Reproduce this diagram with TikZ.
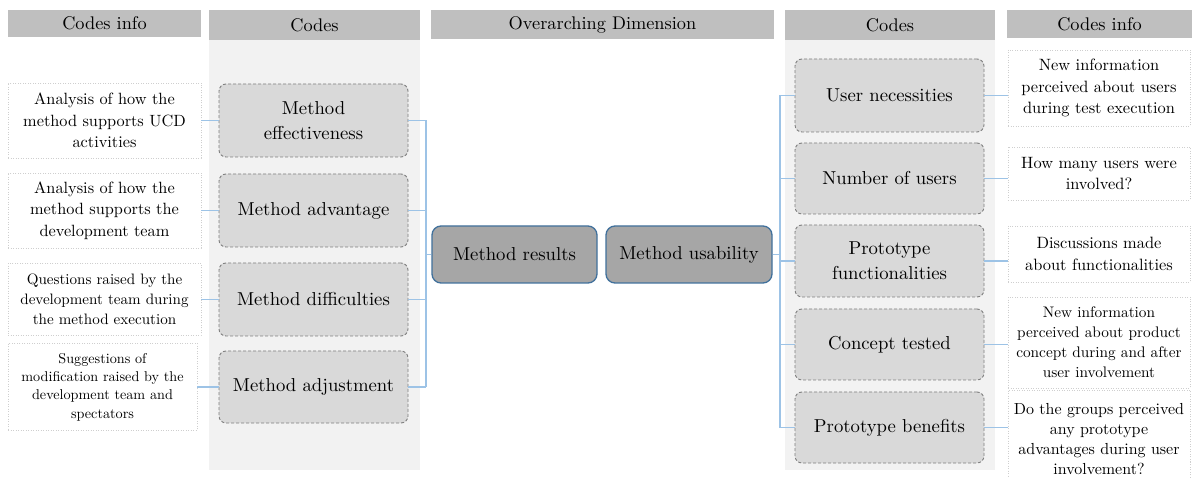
\documentclass[tikz,border=0pt]{standalone}
\usepackage{fontspec}
\newfontfamily\lmser{lmroman10-regular.otf}
\definecolor{hdrgray}{HTML}{BFBFBF}
\definecolor{panelgray}{HTML}{F2F2F2}
\definecolor{codegray}{HTML}{D9D9D9}
\definecolor{dashgray}{HTML}{7F7F7F}
\definecolor{dotgray}{HTML}{CFCFCF}
\definecolor{dimgray}{HTML}{A6A6A6}
\definecolor{dimblue}{HTML}{41719C}
\definecolor{connblue}{HTML}{9DC3E6}
\tikzset{
 hdr/.style={fill=hdrgray, inner sep=0pt, font=\lmser\fontsize{18.3}{22}\selectfont},
 codebox/.style={draw=dashgray, dash pattern=on 3pt off 2pt, fill=codegray, rounded corners=7pt, line width=0.9pt, inner sep=0pt, align=center, font=\lmser\fontsize{18.7}{25}\selectfont},
 infobox/.style={draw=dotgray, dash pattern=on 1pt off 1.5pt, line width=0.8pt, fill=white, inner sep=0pt, align=center},
 dimbox/.style={draw=dimblue, fill=dimgray, rounded corners=9pt, line width=1.3pt, inner sep=0pt, font=\lmser\fontsize{18.7}{25}\selectfont},
 conn/.style={draw=connblue, line width=1.2pt},
 fA/.style={font=\lmser\fontsize{16.3}{21.7}\selectfont},
 fB/.style={font=\lmser\fontsize{15.1}{20}\selectfont},
 fC/.style={font=\lmser\fontsize{14.2}{18.3}\selectfont},
 fD/.style={font=\lmser\fontsize{16.4}{21.7}\selectfont},
 fE/.style={font=\lmser\fontsize{15.3}{20}\selectfont},
 fF/.style={font=\lmser\fontsize{16}{20}\selectfont},
}
\begin{document}
\begin{tikzpicture}[x=1pt,y=-1pt]
\path[use as bounding box] (0,0) rectangle (1192,478);
\clip (0,0) rectangle (1192,478);
\fill[white] (0,0) rectangle (1192,478);
% panels
\fill[panelgray] (209,40) rectangle (420,470);
\fill[panelgray] (785,40) rectangle (995,470);
% headers
\node[hdr, minimum width=193, minimum height=27] (h1) at (104.5,23.5) {Codes info};
\node[hdr, minimum width=211, minimum height=30] (h2) at (314.5,25) {Codes};
\node[hdr, minimum width=343, minimum height=29] (h3) at (602.5,24.5) {Overarching Dimension};
\node[hdr, minimum width=210, minimum height=30] (h4) at (890,25) {Codes};
\node[hdr, minimum width=185, minimum height=28] (h5) at (1099.5,24) {Codes info};
% left codes
\node[codebox, minimum width=189, minimum height=73] (eff) at (313.5,120.5) {Method\\effectiveness};
\node[codebox, minimum width=189, minimum height=73] (adv) at (313.5,210.5) {Method advantage};
\node[codebox, minimum width=189, minimum height=73] (dif) at (313.5,299.5) {Method difficulties};
\node[codebox, minimum width=189, minimum height=72] (adj) at (313.5,387) {Method adjustment};
% left info
\node[infobox, fA, minimum width=193, minimum height=75] (i1) at (104.5,120.5) {Analysis of how the\\method supports UCD\\activities};
\node[infobox, fA, minimum width=193, minimum height=75] (i2) at (104.5,210.5) {Analysis of how the\\method supports the\\development team};
\node[infobox, fB, minimum width=193, minimum height=72] (i3) at (104.5,299.5) {Questions raised by the\\development team during\\the method execution};
\node[infobox, fC, minimum width=189, minimum height=87] (i4) at (102.5,387) {Suggestions of\\modification raised by the\\development team and\\spectators};
% center
\node[dimbox, minimum width=165, minimum height=57] (mr) at (514.5,254.5) {Method results};
\node[dimbox, minimum width=166, minimum height=57] (mu) at (689,254.5) {Method usability};
% right codes
\node[codebox, minimum width=189, minimum height=73] (un) at (889.5,95.5) {User necessities};
\node[codebox, minimum width=189, minimum height=71] (nu) at (889.5,178.5) {Number of users};
\node[codebox, minimum width=189, minimum height=72] (pf) at (889.5,261) {Prototype\\functionalities};
\node[codebox, minimum width=189, minimum height=71] (ct) at (889.5,344.5) {Concept tested};
\node[codebox, minimum width=189, minimum height=71] (pb) at (889.5,427.5) {Prototype benefits};
% right info
\node[infobox, fD, minimum width=182, minimum height=76] (r1) at (1099,88) {New information\\perceived about users\\during test execution};
\node[infobox, fD, minimum width=182, minimum height=53] (r2) at (1099,173.5) {How many users were\\involved?};
\node[infobox, fD, minimum width=182, minimum height=56] (r3) at (1099,254) {Discussions made\\about functionalities};
\node[infobox, fE, minimum width=182, minimum height=91] (r4) at (1099,342.5) {New information\\perceived about product\\concept during and after\\user involvement};
\node[infobox, fF, minimum width=182, minimum height=98] (r5) at (1099,439) {Do the groups perceived\\any prototype\\advantages during user\\involvement?};
% connectors left
\coordinate (lb) at (426,0);
\draw[conn] (i1.east) -- (i1.east -| eff.west);
\draw[conn] (i2.east) -- (i2.east -| adv.west);
\draw[conn] (i3.east) -- (i3.east -| dif.west);
\draw[conn] (i4.east) -- (i4.east -| adj.west);
\draw[conn] (eff.east) -- (eff.east -| lb);
\draw[conn] (adv.east) -- (adv.east -| lb);
\draw[conn] (dif.east) -- (dif.east -| lb);
\draw[conn] (adj.east) -- (adj.east -| lb);
\draw[conn] (eff.east -| lb) -- (adj.east -| lb);
\draw[conn] (mr.west) -- (mr.west -| lb);
% connectors right
\coordinate (rb) at (780,0);
\draw[conn] (mu.east) -- (mu.east -| rb);
\draw[conn] (un.west -| rb) -- (pb.west -| rb);
\draw[conn] (un.west) -- (un.west -| rb);
\draw[conn] (nu.west) -- (nu.west -| rb);
\draw[conn] (pf.west) -- (pf.west -| rb);
\draw[conn] (ct.west) -- (ct.west -| rb);
\draw[conn] (pb.west) -- (pb.west -| rb);
\draw[conn] (un.east) -- (un.east -| r1.west);
\draw[conn] (nu.east) -- (nu.east -| r2.west);
\draw[conn] (pf.east) -- (pf.east -| r3.west);
\draw[conn] (ct.east) -- (ct.east -| r4.west);
\draw[conn] (pb.east) -- (pb.east -| r5.west);
\end{tikzpicture}
\end{document}
